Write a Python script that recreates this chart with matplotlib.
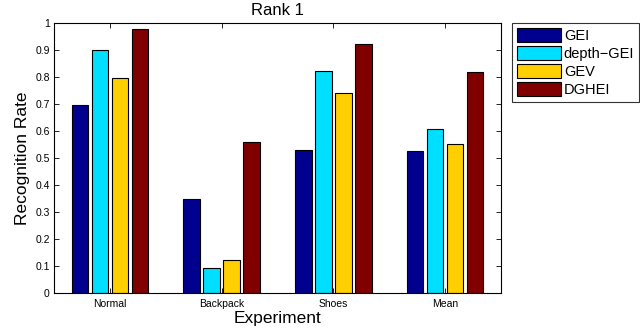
import numpy as np
import matplotlib
matplotlib.use('Agg')
import matplotlib.pyplot as plt

plt.rcParams['font.family'] = ['Liberation Sans', 'DejaVu Sans']

# Datos
experimentos = ['Normal', 'Backpack', 'Shoes', 'Mean']
series = ['GEI', 'depth\u2212GEI', 'GEV', 'DGHEI']
gei = [0.695, 0.349, 0.531, 0.525]
depth_gei = [0.900, 0.094, 0.823, 0.606]
gev = [0.795, 0.122, 0.741, 0.553]
dghei = [0.977, 0.559, 0.921, 0.820]
colores = ['#00008F', '#00DFFF', '#FFCF00', '#800000']

valores = [gei, depth_gei, gev, dghei]

fig = plt.figure(figsize=(6.4, 3.35), dpi=100)
# ejes: x 54..501 px, y 23..293 px
ax = fig.add_axes([54 / 640, 1 - 293 / 335, 447 / 640, 270 / 335])

x = np.arange(1, len(experimentos) + 1)
paso = 0.179
ancho = 0.148
for i, (v, nombre, c) in enumerate(zip(valores, series, colores)):
    ax.bar(x + (i - 1.5) * paso, v, width=ancho, color=c, edgecolor='black',
           linewidth=0.8, label=nombre)

ax.set_xlim(0.5, 4.5)
ax.set_ylim(0, 1)
ax.set_xticks(x)
ax.set_xticklabels(experimentos, fontsize=7.5)
ax.set_yticks(np.arange(0, 1.01, 0.1))
ax.set_yticklabels(['0'] + ['%.1f' % t for t in np.arange(0.1, 0.95, 0.1)] + ['1'], fontsize=7.5)
ax.tick_params(direction='in', length=3.5, width=0.6, top=True, right=True, pad=3)
ax.tick_params(axis='x', pad=4.5)
for s in ax.spines.values():
    s.set_linewidth(0.8)

ax.set_xlabel('Experiment', fontsize=12.5, labelpad=1.5)
ax.set_ylabel('Recognition Rate', fontsize=12.5, labelpad=4)
ax.set_title('Rank 1', fontsize=12, pad=6)

leg = ax.legend(loc='upper left', bbox_to_anchor=(512 / 640, 1 - 23 / 335), bbox_transform=fig.transFigure,
                fontsize=10.5, frameon=True, fancybox=False, edgecolor='black',
                handlelength=3.0, handleheight=1.1, handletextpad=0.2, labelspacing=0.2,
                borderpad=0.35, borderaxespad=0)
leg.get_frame().set_linewidth(0.8)

fig.savefig('out.png', dpi=100)
